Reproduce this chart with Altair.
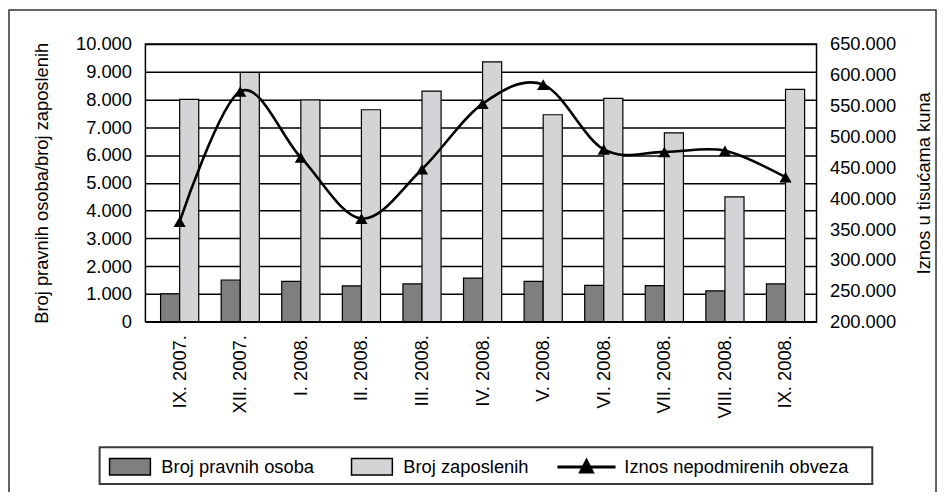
import altair as alt
import pandas as pd

months = ["IX. 2007.", "XII. 2007.", "I. 2008.", "II. 2008.", "III. 2008.", "IV. 2008.",
          "V. 2008.", "VI. 2008.", "VII. 2008.", "VIII. 2008.", "IX. 2008."]
pravne_osobe = [1000, 1500, 1450, 1290, 1360, 1570, 1450, 1310, 1300, 1110, 1360]
zaposleni = [8000, 8970, 7980, 7630, 8300, 9350, 7450, 8040, 6800, 4490, 8360]
obveze = [362000, 573000, 466000, 367000, 447000, 553000, 584000, 479000, 475000, 477000, 434000]

bar_series = ["Broj pravnih osoba", "Broj zaposlenih"]
line_series = "Iznos nepodmirenih obveza"
left_ticks = list(range(0, 10001, 1000))
right_ticks = list(range(200000, 650001, 50000))

FONT = "Liberation Sans"
FS = 18.4
fmt = "replace(format(datum.value, ','), ',', '.')"

rows = []
for m, a, b in zip(months, pravne_osobe, zaposleni):
    rows.append({"month": m, "series": bar_series[0], "value": a})
    rows.append({"month": m, "series": bar_series[1], "value": b})
df_bars = pd.DataFrame(rows)
df_line = pd.DataFrame({"month": months, "amount": obveze, "series": [line_series] * len(months)})

right_axis = alt.Axis(title="Iznos u tisućama kuna", values=right_ticks, labelExpr=fmt,
                      ticks=False, domain=False, grid=False, orient="right",
                      titleAngle=270, labelPadding=13, titlePadding=38,
                      labelOverlap=False)
right_scale = alt.Scale(domain=[200000, 650000])

bars = alt.Chart(df_bars).mark_bar(stroke="black", strokeWidth=1.2).encode(
    x=alt.X("month:N", sort=months,
            scale=alt.Scale(paddingInner=0.37, paddingOuter=0.2235, align=0.56),
            axis=alt.Axis(title=None, labelAngle=-90, labelPadding=13, ticks=False,
                          domain=False, grid=False, labelOverlap=False)),
    xOffset=alt.XOffset("series:N", sort=bar_series,
                        scale=alt.Scale(paddingInner=0, paddingOuter=0)),
    y=alt.Y("value:Q", scale=alt.Scale(domain=[0, 10000]),
            axis=alt.Axis(title="Broj pravnih osoba/broj zaposlenih", values=left_ticks,
                          labelExpr=fmt, ticks=False, domain=False, grid=True,
                          gridColor="black", gridWidth=1.5, labelPadding=14,
                          titlePadding=24, labelOverlap=False)),
    fill=alt.Fill("series:N", sort=bar_series,
                  scale=alt.Scale(domain=bar_series, range=["#7f7f7f", "#d4d4d6"]),
                  legend=alt.Legend(title=None, orient="none", legendX=-37, legendY=403,
                                    direction="horizontal",
                                    symbolType="M-1,-0.4H1V0.4H-1Z", symbolSize=1681,
                                    symbolStrokeColor="black", symbolStrokeWidth=1.5,
                                    labelFont=FONT, labelFontSize=FS, labelColor="black",
                                    labelOffset=10, columnPadding=34, padding=0,
                                    labelLimit=400)),
)

line = alt.Chart(df_line).mark_line(interpolate="cardinal", strokeWidth=2.6).encode(
    x=alt.X("month:N", sort=months),
    y=alt.Y("amount:Q", scale=right_scale, axis=right_axis),
    stroke=alt.Stroke("series:N", scale=alt.Scale(domain=[line_series], range=["black"]),
                      legend=alt.Legend(title=None, orient="none", legendX=412, legendY=394,
                                        symbolType="M-1,0H1M-0.2,0.17L0,-0.22L0.2,0.17Z",
                                        symbolSize=3400, symbolStrokeWidth=3,
                                        symbolFillColor="black",
                                        labelFont=FONT, labelFontSize=FS, labelColor="black",
                                        labelOffset=7, padding=0, labelLimit=400)),
)

points = alt.Chart(df_line).mark_point(shape="triangle-up", filled=True, color="black",
                                        size=150, opacity=1).encode(
    x=alt.X("month:N", sort=months),
    y=alt.Y("amount:Q", scale=right_scale, axis=right_axis),
)

frame_df = pd.DataFrame({"d": [0]})
outer_frame = alt.Chart(frame_df).mark_rect(fillOpacity=0, stroke="#333333", strokeWidth=1.5).encode(
    x=alt.value(-137), x2=alt.value(794), y=alt.value(-34), y2=alt.value(480)
)
legend_frame = alt.Chart(frame_df).mark_rect(fillOpacity=0, stroke="#3a3a3a", strokeWidth=2).encode(
    x=alt.value(-46), x2=alt.value(730), y=alt.value(405), y2=alt.value(442)
)

chart = alt.layer(
    bars, alt.layer(line, points), outer_frame, legend_frame
).resolve_scale(
    y="independent", fill="independent", stroke="independent"
).properties(
    width=674, height=279,
    padding={"left": 138, "top": 35, "right": 123, "bottom": 170},
    autosize=alt.AutoSizeParams(type="none"),
).configure_view(
    stroke="black", strokeWidth=1.5
).configure_axis(
    labelFont=FONT, labelFontSize=FS, labelColor="black",
    titleFont=FONT, titleFontSize=FS, titleFontWeight="normal", titleColor="black",
)

chart.save("out.html", embed_options={"renderer": "svg", "actions": False})
